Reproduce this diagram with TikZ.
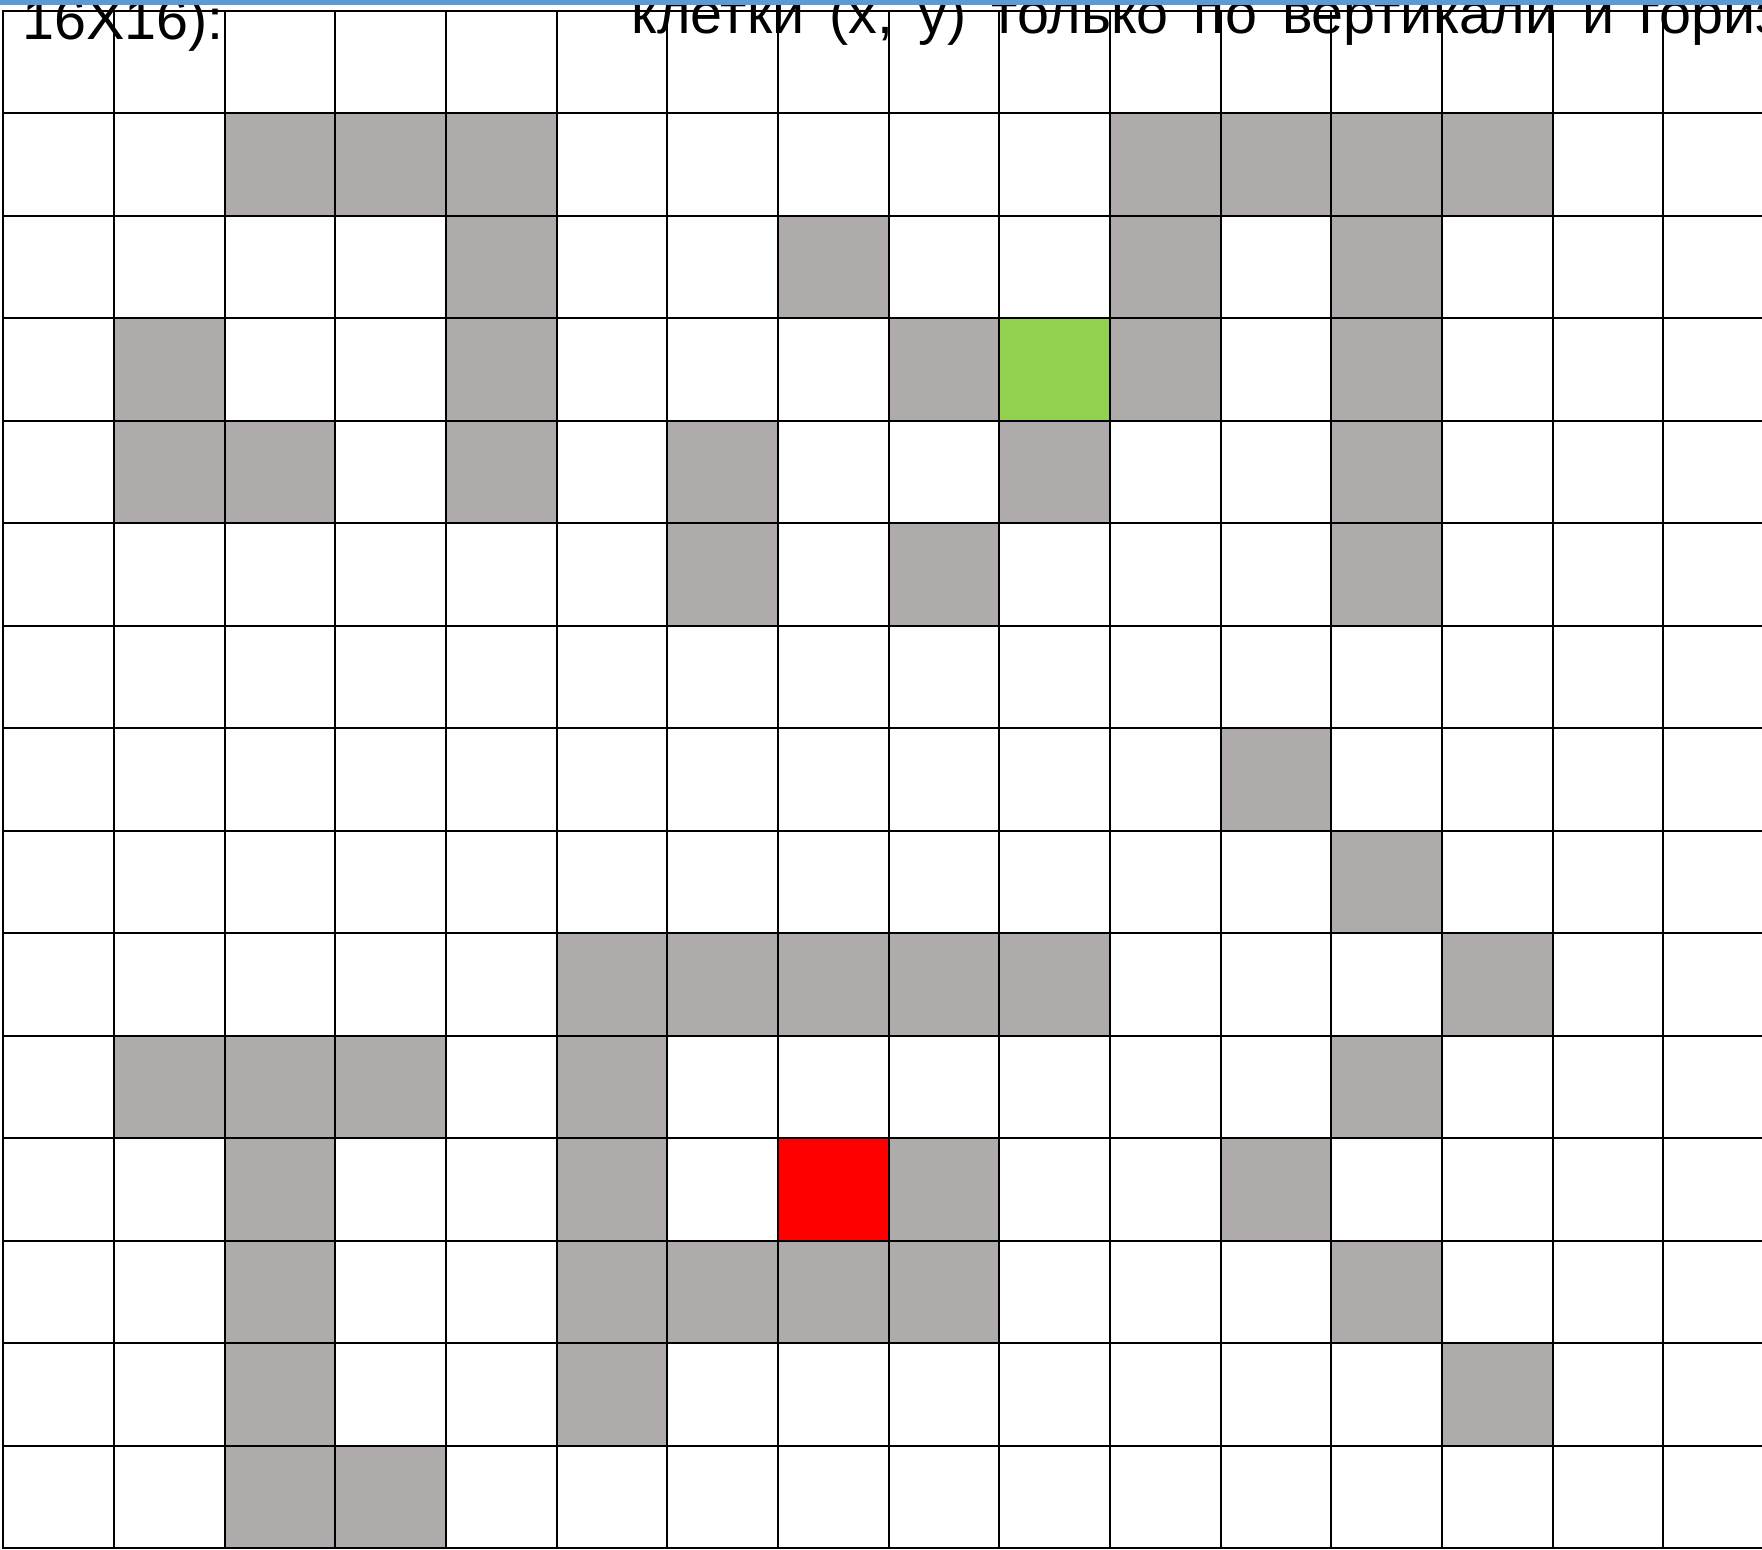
\documentclass[tikz,border=0pt]{standalone}
\usepackage{fontspec}
\setmainfont{Liberation Sans}
\definecolor{cellgray}{HTML}{AFABAB}
\definecolor{startgreen}{HTML}{92D050}
\definecolor{endred}{HTML}{FF0000}
\definecolor{topblue}{HTML}{5B9BD5}
\begin{document}
\begin{tikzpicture}[x=0.5pt,y=-0.5pt,
  gridline/.style={line width=1pt,black,line cap=rect},
  graycell/.style={fill=cellgray},
  greencell/.style={fill=startgreen},
  redcell/.style={fill=endred},
  titletext/.style={anchor=base west,inner sep=0pt,font=\fontsize{28.75pt}{32pt}\selectfont}]
\useasboundingbox (0,0) rectangle (1762,1550);
\clip (0,0) rectangle (1762,1550);
\fill[white] (0,0) rectangle (1762,1550);
\def\cw{110.67}
\def\rh{102.47}
\def\ox{3.3}
\def\oy{11}
% grey cells (column/row)
\foreach \c/\r in {2/1,3/1,4/1,10/1,11/1,12/1,13/1,
  4/2,7/2,10/2,12/2,
  1/3,4/3,8/3,10/3,12/3,
  1/4,2/4,4/4,6/4,9/4,12/4,
  6/5,8/5,12/5,
  11/7,
  12/8,
  5/9,6/9,7/9,8/9,9/9,13/9,
  1/10,2/10,3/10,5/10,12/10,
  2/11,5/11,8/11,11/11,
  2/12,5/12,6/12,7/12,8/12,12/12,
  2/13,5/13,13/13,
  2/14,3/14}
  \path[graycell] ({\ox+\c*\cw},{\oy+\r*\rh}) rectangle ++(\cw,\rh);
\path[greencell] ({\ox+9*\cw},{\oy+3*\rh}) rectangle ++(\cw,\rh);
\path[redcell] ({\ox+7*\cw},{\oy+11*\rh}) rectangle ++(\cw,\rh);
% grid lines
\foreach \k in {0,...,16}
  \draw[gridline] ({\ox+\k*\cw},\oy) -- ({\ox+\k*\cw},{\oy+15*\rh});
\foreach \j in {0,...,15}
  \draw[gridline] (\ox,{\oy+\j*\rh}) -- (1800,{\oy+\j*\rh});
% texts
\node[titletext] (title1) at (22,39.3) {16X16):};
\node[titletext] (title2) at (631,33.3) {\spaceskip=12.5pt\relax клетки (x, y) только по вертикали и горизонтали};
% top bar
\fill[topblue] (0,0) rectangle (1762,5);
\end{tikzpicture}
\end{document}
